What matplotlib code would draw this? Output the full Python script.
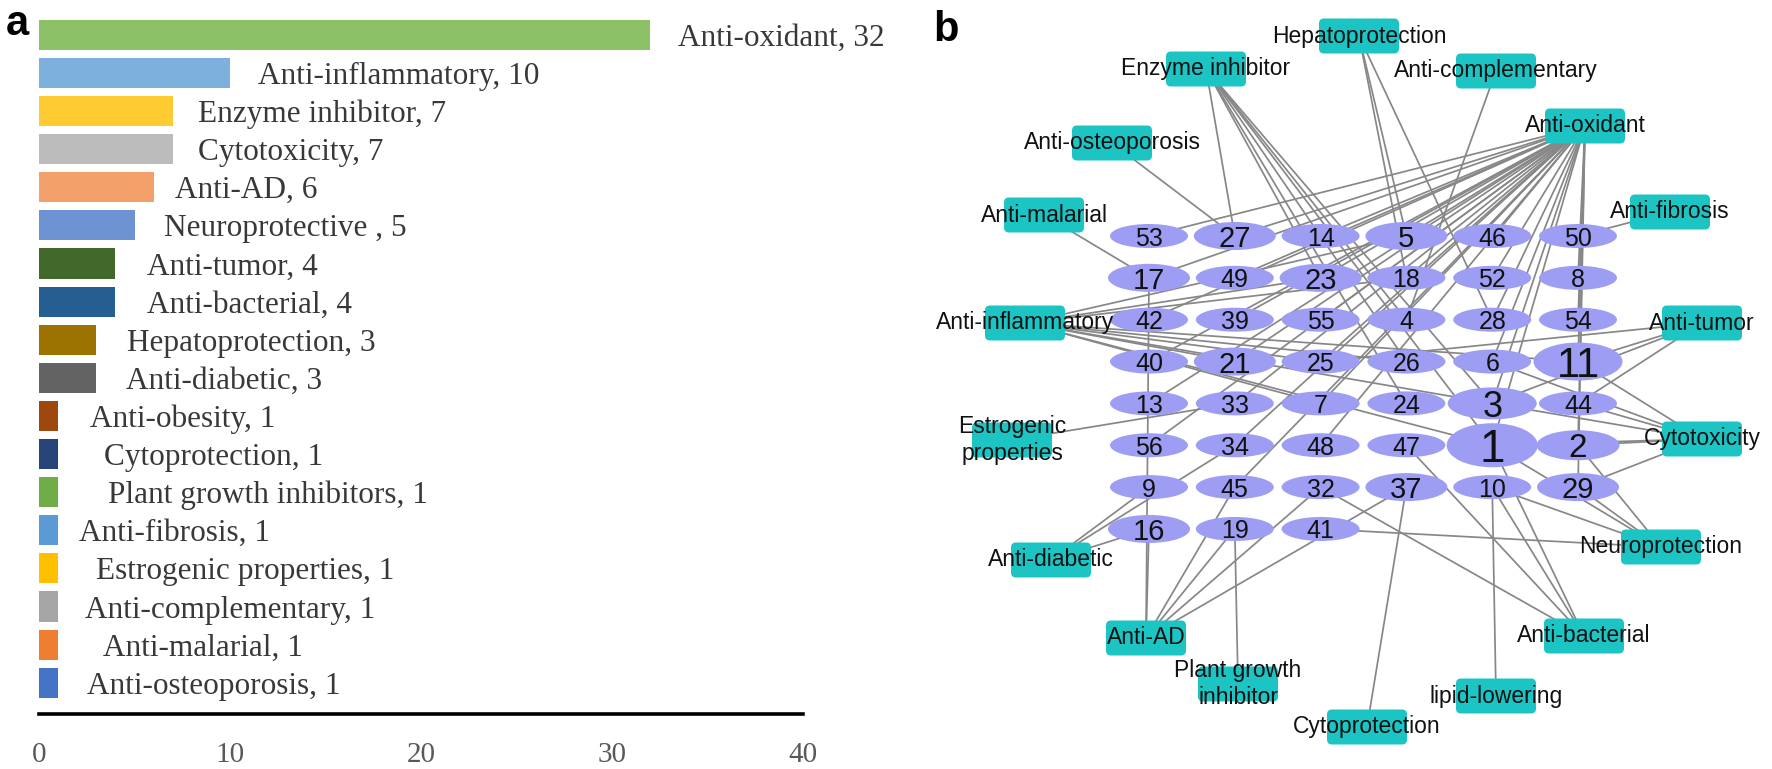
import matplotlib.pyplot as plt
from matplotlib.patches import Ellipse, FancyBboxPatch

# ---- panel a data ----
activities = ['Anti-oxidant', 'Anti-inflammatory', 'Enzyme inhibitor', 'Cytotoxicity',
              'Anti-AD', 'Neuroprotective ', 'Anti-tumor', 'Anti-bacterial',
              'Hepatoprotection', 'Anti-diabetic', 'Anti-obesity', 'Cytoprotection',
              'Plant growth inhibitors', 'Anti-fibrosis', 'Estrogenic properties',
              'Anti-complementary', 'Anti-malarial', 'Anti-osteoporosis']
counts = [32, 10, 7, 7, 6, 5, 4, 4, 3, 3, 1, 1, 1, 1, 1, 1, 1, 1]
bar_colors = ['#8cc168', '#7eb0de', '#ffcb33', '#bcbcbc', '#f3a06a', '#6d93d3',
              '#43682b', '#255e91', '#9c7300', '#636363', '#9e480e', '#264478',
              '#70ad47', '#5b9bd5', '#ffc000', '#a5a5a5', '#ed7d31', '#4472c4']
# gap between bar end and its label, in pixels
label_gap = [28, 28, 25, 25, 21, 29, 32, 32, 31, 30, 32, 46, 50, 21, 38, 27, 45, 29]

# ---- panel b data ----
compound_grid = [
    ['53', '27', '14', '5', '46', '50'],
    ['17', '49', '23', '18', '52', '8'],
    ['42', '39', '55', '4', '28', '54'],
    ['40', '21', '25', '26', '6', '11'],
    ['13', '33', '7', '24', '3', '44'],
    ['56', '34', '48', '47', '1', '2'],
    ['9', '45', '32', '37', '10', '29'],
    ['16', '19', '41'],
]
# node size class -> (ellipse w, ellipse h, font size)
node_style = {'s': (78, 24, 18), 'm': (82, 28, 21), '2': (83, 30, 24),
              '3': (89, 32, 26), '11': (89, 38, 30), '1': (91, 44, 33)}
medium_nodes = ['27', '17', '23', '21', '5', '16', '37', '29']

# activity box centres (pixel layout of panel b)
box_pos = {
    'Hepatoprotection': (1359, 36),
    'Enzyme inhibitor': (1206, 69),
    'Anti-complementary': (1496, 71),
    'Anti-oxidant': (1585, 126),
    'Anti-osteoporosis': (1112, 143),
    'Anti-malarial': (1044, 215),
    'Anti-fibrosis': (1670, 212),
    'Anti-inflammatory': (1025, 323),
    'Anti-tumor': (1702, 323),
    'Estrogenic\nproperties': (1012, 440),
    'Cytotoxicity': (1702, 439),
    'Anti-diabetic': (1051, 560),
    'Neuroprotection': (1661, 547),
    'Anti-AD': (1146, 638),
    'Anti-bacterial': (1584, 636),
    'Plant growth\ninhibitor': (1238, 684),
    'lipid-lowering': (1496, 696),
    'Cytoprotection': (1367, 727),
}

links = {
    'Anti-oxidant': ['53', '27', '14', '5', '46', '17', '49', '23', '18', '52', '8',
                     '42', '39', '55', '28', '54', '40', '21', '25', '6', '11', '13',
                     '33', '7', '3', '56', '34', '48', '1', '2', '45', '29'],
    'Anti-inflammatory': ['23', '5', '18', '21', '25', '26', '7', '3', '1', '11'],
    'Enzyme inhibitor': ['27', '23', '4', '26', '24', '3', '1'],
    'Cytotoxicity': ['1', '2', '3', '11', '29', '44', '6'],
    'Anti-AD': ['17', '16', '19', '45', '32', '37'],
    'Neuroprotection': ['1', '2', '29', '41', '10'],
    'Anti-tumor': ['11', '25', '44', '3'],
    'Anti-bacterial': ['1', '10', '47', '32'],
    'Hepatoprotection': ['5', '18', '28'],
    'Anti-diabetic': ['9', '16', '34'],
    'lipid-lowering': ['10'],
    'Cytoprotection': ['37'],
    'Plant growth\ninhibitor': ['19'],
    'Anti-fibrosis': ['50'],
    'Estrogenic\nproperties': ['33'],
    'Anti-complementary': ['4'],
    'Anti-malarial': ['17'],
    'Anti-osteoporosis': ['27'],
}

W, H = 1772, 769
fig = plt.figure(figsize=(W / 100, H / 100), dpi=100)

# ================= panel a =================
ax = fig.add_axes([39 / W, (H - 714) / H, 764 / W, (714 - 12) / H])
px_per_unit = 764 / 40
ypos = list(range(len(activities)))
ax.barh(ypos, counts, height=0.79, color=bar_colors)
for i, (name, v) in enumerate(zip(activities, counts)):
    ax.text(v + label_gap[i] / px_per_unit, i, f'{name}, {v}',
            va='center_baseline', ha='left', fontsize=22.5,
            family='Liberation Serif', color='#383838')
ax.set_xlim(0, 40)
ax.set_ylim(17.82, -0.6)
ax.set_yticks([])
ax.set_xticks([0, 10, 20, 30, 40])
ax.tick_params(axis='x', length=0, pad=20, labelsize=21, labelcolor='#595959')
for lab in ax.get_xticklabels():
    lab.set_family('Liberation Serif')
for s in ['top', 'right', 'left']:
    ax.spines[s].set_visible(False)
ax.spines['bottom'].set_linewidth(2.6)
ax.spines['bottom'].set_color('black')
fig.text(6 / W, 1 - 24 / H, 'a', fontsize=30, fontweight='bold',
         family='Liberation Sans', va='center', ha='left')

# ================= panel b =================
bx = fig.add_axes([820 / W, 0, (W - 820) / W, 1])
bx.set_xlim(820, W)
bx.set_ylim(H, 0)
bx.axis('off')

col_x0, col_dx = 1149, 85.8
row_y0, row_dy = 236, 41.85
node_pos = {}
for r, row in enumerate(compound_grid):
    for c, name in enumerate(row):
        node_pos[name] = (col_x0 + c * col_dx, row_y0 + r * row_dy)

for act, comps in links.items():
    x0, y0 = box_pos[act]
    for comp in comps:
        x1, y1 = node_pos[comp]
        bx.plot([x0, x1], [y0, y1], color='#878787', lw=1.25, zorder=1,
                solid_capstyle='round')

for name, (x, y) in node_pos.items():
    if name in node_style:
        w, h, fs = node_style[name]
    elif name in medium_nodes:
        w, h, fs = node_style['m']
    else:
        w, h, fs = node_style['s']
    bx.add_patch(Ellipse((x, y), w, h, facecolor='#9d9df3', edgecolor='none', zorder=2))
    bx.text(x, y, name, ha='center', va='center_baseline', fontsize=fs,
            family='Liberation Sans', color='#111111', zorder=4)

bw, bh = 80, 35
for act, (x, y) in box_pos.items():
    bx.add_patch(FancyBboxPatch((x - bw / 2, y - bh / 2), bw, bh,
                                boxstyle='round,pad=0,rounding_size=5',
                                facecolor='#1cc4c4', edgecolor='none', zorder=3))
    bx.text(x, y, act, ha='center', va='center', fontsize=16.5, linespacing=1.25,
            family='Liberation Sans', color='#111111', zorder=4)

bx.text(946, 30, 'b', fontsize=30, fontweight='bold', family='Liberation Sans',
        ha='center', va='center')

fig.savefig('out.png', dpi=100)
